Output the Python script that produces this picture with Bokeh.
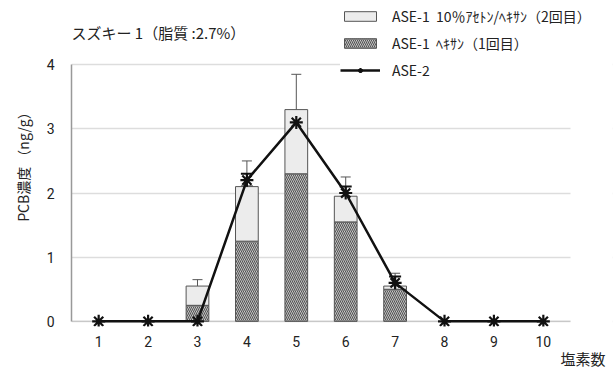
from bokeh.plotting import figure
from bokeh.models import (ColumnDataSource, Range1d, Whisker, TeeHead, Legend,
                          LegendItem, FixedTicker, Label, Title, BoxAnnotation)
from bokeh.embed import file_html
from bokeh.resources import INLINE

# ---- data ----
chlorine = [1, 2, 3, 4, 5, 6, 7, 8, 9, 10]
x_labels = ["1", "2", "3", "4", "5", "6", "7", "8", "9", "10"]
y_ticks = [0, 1, 2, 3, 4]
hexane_1st = [0, 0, 0.25, 1.25, 2.3, 1.55, 0.5, 0, 0, 0]
acetone_2nd = [0, 0, 0.30, 0.85, 1.0, 0.40, 0.05, 0, 0, 0]
ase1_err = [0, 0, 0.1, 0.4, 0.55, 0.3, 0.2, 0, 0, 0]
ase2 = [0, 0, 0, 2.2, 3.1, 2.0, 0.6, 0, 0, 0]
ase2_err = [0, 0, 0, 0.1, 0.1, 0.1, 0.1, 0, 0, 0]

total = [a + b for a, b in zip(hexane_1st, acetone_2nd)]
bar_x = [x for x, t in zip(chlorine, total) if t > 0]
bar_h = [h for h, t in zip(hexane_1st, total) if t > 0]
bar_t = [tt for tt in total if tt > 0]
bar_e = [e for e, t in zip(ase1_err, total) if t > 0]

src_bar = ColumnDataSource(dict(x=bar_x, h=bar_h, t=bar_t,
                                up=[a + b for a, b in zip(bar_t, bar_e)],
                                lo=[a - b for a, b in zip(bar_t, bar_e)]))
e_idx = [i for i, e in enumerate(ase2_err) if e > 0]
src_err2 = ColumnDataSource(dict(x=[chlorine[i] for i in e_idx],
                                 up=[ase2[i] + ase2_err[i] for i in e_idx],
                                 lo=[ase2[i] - ase2_err[i] for i in e_idx]))
src_line = ColumnDataSource(dict(x=chlorine, y=ase2))

JP = "Noto Sans CJK JP"
XMIN, XEND, XFRAME = 0.45, 10.55, 11.4   # axis extent / frame extent

p = figure(width=616, height=369, output_backend="svg", toolbar_location=None,
           x_range=Range1d(XMIN, XFRAME), y_range=Range1d(-0.08, 5.0),
           min_border_left=69, min_border_right=4, min_border_top=0,
           min_border_bottom=43)
p.background_fill_color = "white"
p.outline_line_color = None

p.xgrid.grid_line_color = None
p.ygrid.grid_line_color = "#dddddd"
p.ygrid.grid_line_width = 1.5
# hide grid lines beyond the plotting area (legend/label zone on the right)
p.add_layout(BoxAnnotation(left=XEND, fill_color="white", fill_alpha=1.0,
                           line_color=None, level="underlay"))

# bars
r_hex = p.vbar(x="x", top="h", bottom=0, width=0.46, source=src_bar,
               fill_color="#dedede", line_color="#555555", line_width=1,
               hatch_pattern="\\", hatch_color="#505050", hatch_scale=4,
               hatch_weight=1.1)
r_ace = p.vbar(x="x", top="t", bottom="h", width=0.46, source=src_bar,
               fill_color="#ececec", line_color="#555555", line_width=1)

w1 = Whisker(base="x", upper="up", lower="lo", source=src_bar,
             line_color="#555555", line_width=1,
             upper_head=TeeHead(size=10, line_color="#555555", line_width=1),
             lower_head=TeeHead(size=10, line_color="#555555", line_width=1))
p.add_layout(w1)

# x-axis line at zero, limited to the plotting extent
p.add_layout(BoxAnnotation(left=XMIN, right=XEND, bottom=0, top=0,
                           fill_alpha=0, line_color="#999999", line_width=1.5,
                           level="underlay"))

# line
r_line = p.line("x", "y", source=src_line, line_color="#111111", line_width=2.5)
w2 = Whisker(base="x", upper="up", lower="lo", source=src_err2,
             line_color="#111111", line_width=1.5,
             upper_head=TeeHead(size=12, line_color="#111111", line_width=2),
             lower_head=TeeHead(size=12, line_color="#111111", line_width=2))
p.add_layout(w2)
r_pts = p.scatter("x", "y", source=src_line, marker="asterisk", size=13,
                  line_color="#111111", line_width=2.2)

# axes
p.xaxis.ticker = FixedTicker(ticks=chlorine)
p.xaxis.major_label_overrides = {c: l for c, l in zip(chlorine, x_labels)}
p.yaxis.ticker = FixedTicker(ticks=y_ticks)
p.yaxis.bounds = (y_ticks[0], y_ticks[-1])
for ax in (p.xaxis, p.yaxis):
    ax.major_tick_line_color = None
    ax.minor_tick_line_color = None
    ax.major_label_text_font = "Roboto"
    ax.major_label_text_font_size = "14px"
    ax.major_label_text_color = "#222222"
    ax.axis_line_color = "#999999"
    ax.axis_line_width = 1.5
p.xaxis.axis_line_color = None
p.xaxis.major_label_standoff = 3
p.yaxis.major_label_standoff = 11

# y-axis title (side title so it can be centred on the 0-4 range)
yt = Title(text="PCB濃度 （ng/g）", align="center", offset=34, standoff=21,
           text_font=JP, text_font_size="14px", text_color="#222222",
           text_font_style="normal")
p.add_layout(yt, "left")

legend = Legend(items=[
    LegendItem(label="ASE-1  10％ｱｾﾄﾝ/ﾍｷｻﾝ（2回目）", renderers=[r_ace]),
    LegendItem(label="ASE-1  ﾍｷｻﾝ（1回目）", renderers=[r_hex]),
    LegendItem(label="ASE-2", renderers=[r_line, r_pts]),
], location=(269, 246), padding=0, margin=0, spacing=7,
    glyph_width=40, glyph_height=12, label_height=20, label_standoff=12,
    label_text_font=JP, label_text_font_size="14px",
    label_text_color="#222222", border_line_color=None,
    background_fill_color="white", background_fill_alpha=1.0)
p.add_layout(legend, "center")

# chart title inside the frame's top area
p.add_layout(Label(x=XMIN, y=4.5, text="スズキー 1（脂質 :2.7%）",
                   text_font=JP, text_font_size="15px", text_color="#222222",
                   text_align="left", text_baseline="middle"))

# x-axis title at bottom right
xt = Title(text="塩素数", align="right", offset=7, standoff=-8,
           text_font=JP, text_font_size="15px", text_color="#222222",
           text_font_style="normal")
p.add_layout(xt, "below")

open("out.html", "w").write(file_html(p, INLINE))
